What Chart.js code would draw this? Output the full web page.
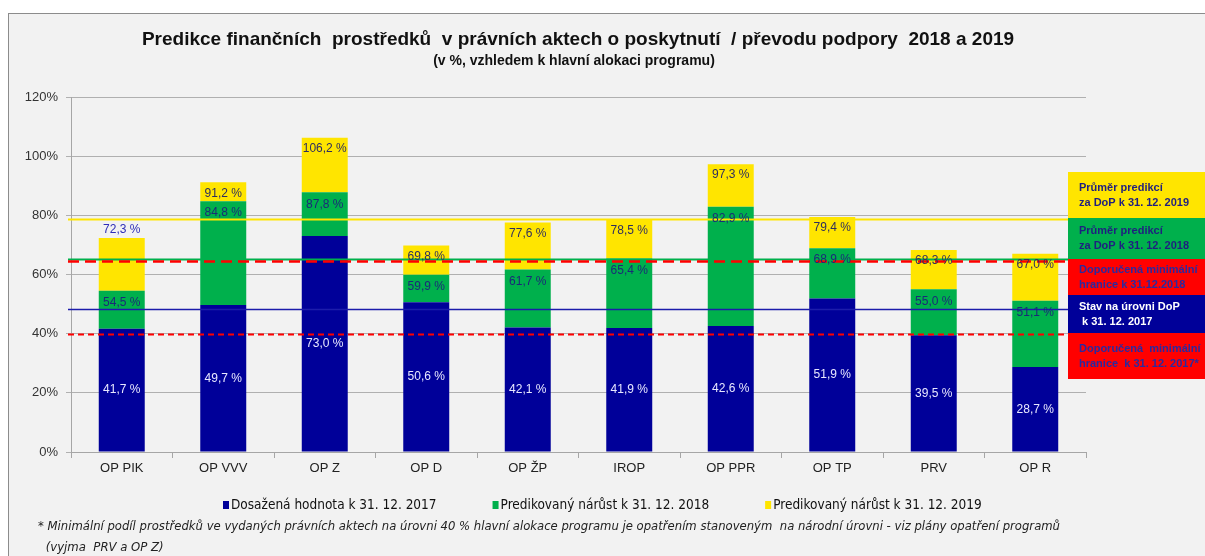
<!DOCTYPE html>
<html>
<head>
<meta charset="utf-8">
<script src="https://cdn.jsdelivr.net/npm/chart.js@4"></script>
<style>
html, body { margin: 0; padding: 0; background: #fff; }
#frame { position: absolute; left: 8px; top: 13px; width: 1197px; height: 543px; background: #f2f2f2;
  border-left: 1px solid #8c8c8c; border-top: 1px solid #8c8c8c; box-sizing: border-box; }
#wrap { position: absolute; left: 0; top: 0; width: 1205px; height: 556px; }
</style>
</head>
<body>
<div id="frame"></div>
<div id="wrap"><canvas id="chart"></canvas></div>
<script>
// data (cumulative values as printed on the bars)
const categories = ["OP PIK", "OP VVV", "OP Z", "OP D", "OP ŽP", "IROP", "OP PPR", "OP TP", "PRV", "OP R"];
const achieved2017 = [41.7, 49.7, 73.0, 50.6, 42.1, 41.9, 42.6, 51.9, 39.5, 28.7];
const predicted2018 = [54.5, 84.8, 87.8, 59.9, 61.7, 65.4, 82.9, 68.9, 55.0, 51.1];
const predicted2019 = [72.3, 91.2, 106.2, 69.8, 77.6, 78.5, 97.3, 79.4, 68.3, 67.0];
const seriesNames = ["Dosažená hodnota k 31. 12. 2017", "Predikovaný nárůst k 31. 12. 2018", "Predikovaný nárůst k 31. 12. 2019"];

// horizontal reference lines and their boxes on the right
const refLineValues = [78.6, 65.2, 64.4, 48.3, 40.0];
const refLineLabels = [
  ["Průměr predikcí", "za DoP k 31. 12. 2019"],
  ["Průměr predikcí", "za DoP k 31. 12. 2018"],
  ["Doporučená minimální", "hranice k 31.12.2018"],
  ["Stav na úrovni DoP", " k 31. 12. 2017"],
  ["Doporučená  minimální", "hranice  k 31. 12. 2017*"]
];

const titleText = "Predikce finančních  prostředků  v právních aktech o poskytnutí  / převodu podpory  2018 a 2019";
const subtitleText = "(v %, vzhledem k hlavní alokaci programu)";
const footnoteLines = [
  "* Minimální podíl prostředků ve vydaných právních aktech na úrovni 40 % hlavní alokace programu je opatřením stanoveným  na národní úrovni - viz plány opatření programů",
  " (vyjma  PRV a OP Z)"
];

const BLUE = "#000099", GREEN = "#00b04c", YELLOW = "#ffe500", RED = "#ff0000";
const FONT = '"Liberation Sans", Arial, sans-serif';
const NARROW = '"Liberation Sans Narrow", "DejaVu Sans Condensed", "Liberation Sans", sans-serif';

const lineStyles = [
  { color: YELLOW, width: 2, dash: [] },
  { color: GREEN, width: 2, dash: [] },
  { color: RED, width: 2.5, dash: [11, 6] },
  { color: "#1c1cab", width: 1.5, dash: [] },
  { color: RED, width: 2, dash: [6, 4] }
];
const boxStyles = [
  { bg: YELLOW, fg: "#1f1f80", h: 46 },
  { bg: GREEN, fg: "#1f1f80", h: 41 },
  { bg: RED, fg: "#2a2aa0", h: 36 },
  { bg: BLUE, fg: "#ffffff", h: 38 },
  { bg: RED, fg: "#2a2aa0", h: 46 }
];

const growth2018 = predicted2018.map((v, i) => +(v - achieved2017[i]).toFixed(1));
const growth2019 = predicted2019.map((v, i) => +(v - predicted2018[i]).toFixed(1));
const fmt = v => v.toFixed(1).replace(".", ",") + " %";

const decorPlugin = {
  id: "decor",
  afterDatasetsDraw(chart) {
    const ctx = chart.ctx, ca = chart.chartArea, y = chart.scales.y;
    const boxLeft = 1068;
    ctx.save();
    // reference lines
    refLineValues.forEach((v, i) => {
      const s = lineStyles[i];
      const py = Math.round(y.getPixelForValue(v)) + 0.5;
      ctx.strokeStyle = s.color;
      ctx.lineWidth = s.width;
      ctx.setLineDash(s.dash);
      ctx.beginPath();
      ctx.moveTo(ca.left - 3, py);
      ctx.lineTo(boxLeft, py);
      ctx.stroke();
    });
    ctx.setLineDash([]);

    // bar value labels
    ctx.textAlign = "center";
    ctx.textBaseline = "middle";
    ctx.font = "12px " + FONT;
    const m0 = chart.getDatasetMeta(0).data, m1 = chart.getDatasetMeta(1).data, m2 = chart.getDatasetMeta(2).data;
    categories.forEach((c, j) => {
      const b = m0[j];
      ctx.fillStyle = "#e8e8ff";
      ctx.fillText(fmt(achieved2017[j]), b.x, (b.y + b.base) / 2);
      ctx.fillStyle = "#1a2a78";
      ctx.fillText(fmt(predicted2018[j]), m1[j].x, m1[j].y + 12);
      if (j === 0) {
        ctx.fillStyle = "#2d2db8";
        ctx.fillText(fmt(predicted2019[j]), m2[j].x, m2[j].y - 8);
      } else {
        ctx.fillStyle = "#2e2e5e";
        ctx.fillText(fmt(predicted2019[j]), m2[j].x, m2[j].y + 11);
      }
    });

    // boxes on the right
    let top = 172;
    ctx.textAlign = "left";
    ctx.font = "bold 11px " + FONT;
    refLineLabels.forEach((lines, i) => {
      const s = boxStyles[i];
      ctx.fillStyle = s.bg;
      ctx.fillRect(boxLeft, top, 1205 - boxLeft, s.h);
      ctx.fillStyle = s.fg;
      const gap = 15;
      const start = top + s.h / 2 - gap / 2;
      lines.forEach((t, k) => ctx.fillText(t, 1079, start + k * gap));
      top += s.h;
    });

    // title
    ctx.textAlign = "center";
    ctx.fillStyle = "#111";
    ctx.font = "bold 19px " + FONT;
    ctx.fillText(titleText, 578, 40);
    ctx.font = "bold 14px " + FONT;
    ctx.fillText(subtitleText, 574, 61);

    // legend
    ctx.textAlign = "left";
    ctx.font = "13.5px " + NARROW;
    let lx = 223;
    chart.data.datasets.forEach(ds => {
      ctx.fillStyle = ds.backgroundColor;
      ctx.fillRect(lx, 501, 6, 8);
      ctx.fillStyle = "#111";
      ctx.fillText(ds.label, lx + 8, 505);
      lx += 8 + ctx.measureText(ds.label).width + 56;
    });

    // footnote
    ctx.font = "italic 13px " + NARROW;
    ctx.fillStyle = "#222";
    ctx.fillText(footnoteLines[0], 38, 527, 1022);
    ctx.fillText(footnoteLines[1], 42, 548);
    ctx.restore();
  }
};

new Chart(document.getElementById("chart"), {
  type: "bar",
  data: {
    labels: categories,
    datasets: [
      { label: seriesNames[0], data: achieved2017, backgroundColor: BLUE },
      { label: seriesNames[1], data: growth2018, backgroundColor: GREEN },
      { label: seriesNames[2], data: growth2019, backgroundColor: YELLOW }
    ]
  },
  options: {
    responsive: true,
    maintainAspectRatio: false,
    animation: false,
    layout: { padding: { left: 0, top: 97, right: 119, bottom: 74 } },
    plugins: { legend: { display: false }, tooltip: { enabled: false } },
    datasets: { bar: { categoryPercentage: 1, barPercentage: 0.453 } },
    scales: {
      x: {
        stacked: true,
        afterFit: s => { s.height = 30; },
        grid: { drawOnChartArea: false, drawTicks: true, tickLength: 6, color: "#a6a6a6", offset: true },
        border: { color: "#a6a6a6" },
        ticks: { color: "#222", font: { family: FONT, size: 13 }, padding: 3 }
      },
      y: {
        stacked: true,
        min: 0, max: 120,
        afterFit: s => { s.width = 71; },
        grid: { color: "#b0b0b0", tickLength: 5 },
        border: { color: "#a6a6a6" },
        ticks: { stepSize: 20, color: "#333", font: { family: FONT, size: 13 }, padding: 8, callback: v => v + "%" }
      }
    }
  },
  plugins: [decorPlugin]
});
</script>
</body>
</html>
